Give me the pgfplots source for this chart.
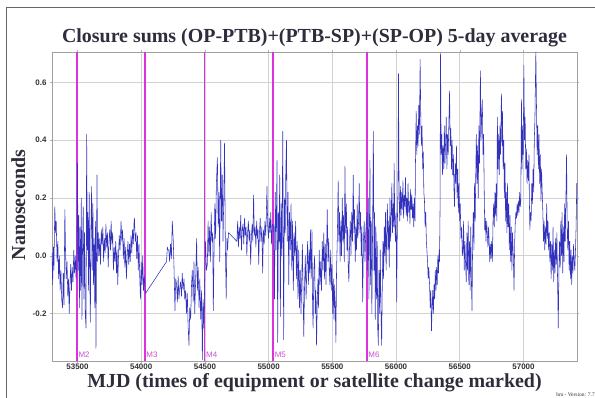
\documentclass[border=0pt]{standalone}
\usepackage{pgfplots}
\pgfplotsset{compat=1.18}
\usepackage{fontspec}
\setmainfont{Liberation Serif}
\newfontfamily\arialf{Liberation Sans}
\definecolor{titlecol}{RGB}{45,45,60}
\definecolor{tickcol}{RGB}{50,50,50}
\definecolor{datacol}{RGB}{50,50,190}
\definecolor{mcol}{RGB}{220,50,220}
\definecolor{mtxt}{RGB}{205,80,205}
\begin{document}
\begin{tikzpicture}
\begin{axis}[
  at={(0,0)}, anchor=south west, scale only axis,
  width=525bp, height=309bp,
  xmin=53300, xmax=57420, ymin=-0.364, ymax=0.705,
  xtick={53500,54000,54500,55000,55500,56000,56500,57000},
  ytick={-0.2,0,0.2,0.4,0.6},
  scaled x ticks=false, scaled y ticks=false,
  grid=major, grid style={draw=gray!35, line width=0.6bp},
  axis line style={draw=gray!75, line width=0.9bp},
  tick align=outside, major tick length=2bp,
  tick style={draw=gray!60, line width=0.5bp},
  /pgf/number format/assume math mode=true,
  x tick label style={font=\arialf\bfseries\fontsize{8}{9}\selectfont, text=tickcol, inner sep=0.5bp, /pgf/number format/.cd, fixed, precision=0, 1000 sep={}},
  y tick label style={font=\arialf\bfseries\fontsize{8}{9}\selectfont, text=tickcol, /pgf/number format/.cd, fixed, fixed zerofill, precision=1},
  title={Closure sums (OP-PTB)+(PTB-SP)+(SP-OP) 5-day average},
  title style={font=\bfseries\fontsize{20}{24}\selectfont, text=titlecol, at={(axis description cs:0.5,1)}, anchor=base, yshift=3.5bp},
  xlabel={MJD (times of equipment or satellite change marked)},
  xlabel style={font=\bfseries\fontsize{20}{24}\selectfont, text=titlecol, inner sep=0pt, at={(axis description cs:0.5,-0.0858)}, anchor=base},
  ylabel={Nanoseconds},
  ylabel style={font=\bfseries\fontsize{20}{24}\selectfont, text=titlecol, at={(axis description cs:-0.0514,0.505)}, anchor=base, rotate=0},
]
\addplot[mcol, line width=1.6bp] coordinates {(53495,-0.5) (53495,0.8)};
\addplot[mcol, line width=1.6bp] coordinates {(54028,-0.5) (54028,0.8)};
\addplot[mcol, line width=1.6bp] coordinates {(54497,-0.5) (54497,0.8)};
\addplot[mcol, line width=1.6bp] coordinates {(55035,-0.5) (55035,0.8)};
\addplot[mcol, line width=1.6bp] coordinates {(55770,-0.5) (55770,0.8)};
\addplot[datacol, line width=0.55bp, line join=round] table {
x y
53300 0.01
53305 -0.10
53310 0.03
53315 -0.05
53322 0.17
53328 0.08
53333 0.12
53340 -0.02
53346 0.05
53352 -0.08
53358 0.00
53364 -0.12
53370 -0.05
53376 -0.15
53383 -0.18
53388 -0.06
53394 -0.17
53401 0.16
53406 0.02
53412 -0.08
53418 -0.02
53424 -0.14
53430 -0.08
53435 -0.20
53441 -0.10
53447 -0.03
53453 -0.12
53459 -0.04
53465 -0.09
53471 0.02
53477 -0.06
53483 0.00
53489 -0.08
53494 -0.04
53500 0.32
53505 -0.05
53510 0.14
53515 -0.18
53520 0.10
53525 -0.12
53530 0.20
53535 -0.22
53540 0.05
53545 0.17
53550 -0.15
53555 0.08
53561 -0.20
53567 -0.25
53572 0.42
53577 0.02
53582 0.15
53587 -0.12
53592 0.22
53597 -0.08
53601 -0.23
53606 0.10
53611 0.24
53616 -0.05
53621 0.18
53626 -0.10
53631 0.06
53636 -0.18
53641 0.12
53645 -0.32
53653 0.28
53658 -0.02
53663 0.08
53669 0.00
53675 0.06
53681 -0.03
53687 0.09
53693 0.04
53699 0.10
53705 -0.02
53711 0.06
53717 0.01
53723 0.11
53729 0.03
53735 0.08
53741 -0.04
53747 0.05
53753 0.09
53759 0.02
53764 0.12
53770 0.04
53776 0.08
53782 -0.05
53788 0.03
53794 -0.02
53800 0.05
53806 -0.06
53811 0.02
53816 -0.10
53822 0.00
53828 0.07
53834 0.02
53842 0.12
53848 0.05
53854 0.09
53860 -0.01
53866 0.06
53872 -0.04
53878 0.03
53884 -0.08
53890 0.00
53896 0.05
53902 -0.03
53908 0.04
53914 -0.02
53920 0.07
53926 0.01
53932 0.09
53938 0.04
53943 0.11
53947 0.13
53953 0.05
53959 0.08
53965 -0.01
53971 0.07
53977 -0.05
53983 0.04
53989 -0.08
53994 -0.15
54000 -0.02
54006 -0.10
54012 0.00
54018 -0.12
54024 -0.07
54034 -0.13
54199 -0.02
54205 0.03
54211 0.02
54217 0.02
54223 -0.02
54230 0.04
54237 -0.01
54244 0.12
54252 0.05
54258 -0.05
54265 -0.19
54271 -0.08
54278 -0.10
54284 -0.16
54290 -0.07
54296 -0.15
54303 -0.11
54309 -0.09
54316 -0.14
54322 -0.06
54329 -0.12
54336 -0.08
54342 -0.15
54349 -0.12
54355 -0.20
54362 -0.13
54368 -0.24
54375 -0.31
54381 -0.18
54388 -0.22
54395 -0.10
54401 -0.05
54408 -0.16
54414 -0.02
54420 -0.20
54427 -0.09
54435 0.06
54441 -0.12
54447 -0.04
54454 -0.18
54460 -0.08
54467 -0.22
54474 -0.12
54480 -0.36
54486 -0.15
54492 -0.25
54498 -0.10
54505 0.05
54512 -0.05
54519 -0.03
54525 0.12
54531 0.00
54537 0.10
54543 -0.02
54549 0.15
54555 0.05
54561 0.08
54566 -0.19
54572 0.03
54578 0.18
54584 0.06
54590 0.25
54598 0.34
54604 0.10
54610 0.22
54616 -0.02
54624 0.40
54630 0.12
54636 0.28
54642 0.05
54648 0.20
54654 0.39
54660 0.05
54667 -0.15
54673 0.06
54678 0.02
54685 0.08
54751 0.05
54757 0.12
54763 0.03
54769 0.10
54775 0.06
54781 0.14
54787 0.02
54793 0.09
54799 0.11
54805 0.04
54811 0.13
54817 0.07
54823 0.10
54829 0.00
54835 0.08
54841 0.12
54847 0.05
54853 0.09
54859 -0.03
54865 0.07
54871 0.11
54876 0.05
54882 0.21
54888 0.07
54894 0.10
54900 0.03
54906 0.12
54912 0.06
54917 0.09
54922 -0.03
54928 0.08
54934 0.13
54940 0.05
54947 0.10
54953 -0.06
54959 0.09
54965 0.04
54971 0.12
54977 0.07
54982 0.14
54987 0.24
54993 0.10
54999 0.06
55005 0.13
55011 0.08
55017 0.15
55023 0.04
55029 0.11
55040 0.10
55046 -0.15
55052 0.22
55058 0.02
55066 0.33
55071 -0.30
55077 0.15
55082 0.05
55087 0.28
55092 -0.21
55098 0.18
55104 0.00
55111 0.43
55118 -0.29
55124 0.20
55130 0.08
55135 0.30
55140 0.40
55146 0.05
55152 0.22
55158 -0.10
55164 0.15
55170 0.02
55176 0.18
55182 -0.05
55188 0.12
55194 -0.12
55200 0.08
55206 0.00
55212 0.12
55218 -0.08
55224 0.05
55230 -0.15
55236 0.02
55242 -0.18
55248 -0.05
55254 -0.20
55260 -0.08
55265 0.04
55270 -0.12
55276 -0.28
55282 -0.10
55288 0.00
55294 -0.15
55300 -0.04
55306 0.05
55312 -0.10
55318 0.02
55323 -0.06
55328 0.09
55334 -0.08
55340 0.09
55345 -0.18
55349 -0.25
55355 -0.05
55361 0.00
55366 -0.20
55371 -0.12
55376 -0.31
55382 -0.15
55387 -0.08
55392 -0.18
55397 0.02
55403 -0.10
55409 -0.02
55415 -0.12
55421 0.05
55427 -0.05
55433 0.08
55439 -0.08
55445 0.04
55450 -0.10
55455 0.02
55460 0.16
55466 -0.02
55471 0.06
55476 -0.05
55481 -0.10
55487 0.02
55492 -0.12
55497 -0.03
55503 -0.20
55508 -0.08
55513 -0.22
55518 -0.10
55523 -0.18
55528 -0.30
55533 -0.05
55539 0.06
55546 0.26
55551 0.05
55556 0.15
55561 -0.02
55567 0.12
55572 0.00
55578 0.20
55583 0.05
55588 0.14
55594 -0.02
55599 0.31
55604 0.08
55610 0.18
55615 0.02
55620 0.10
55625 -0.04
55630 -0.09
55636 0.06
55641 0.12
55646 0.00
55652 0.15
55658 0.05
55664 0.28
55669 0.08
55674 0.16
55680 -0.02
55685 0.10
55690 0.02
55695 0.18
55700 0.06
55706 0.12
55711 0.25
55716 0.08
55721 0.15
55727 0.00
55732 0.10
55738 -0.16
55744 0.05
55750 0.12
55756 -0.02
55762 0.08
55772 0.15
55777 -0.05
55782 0.20
55787 -0.15
55791 0.10
55795 0.33
55800 -0.10
55805 0.12
55810 -0.20
55815 0.05
55822 0.43
55827 -0.05
55832 0.15
55837 -0.22
55842 0.10
55847 -0.15
55852 0.05
55856 -0.25
55861 -0.31
55866 -0.05
55871 -0.20
55876 0.02
55881 -0.18
55887 -0.31
55892 -0.10
55897 0.05
55902 -0.08
55907 0.10
55912 0.00
55917 0.15
55922 -0.05
55927 0.08
55932 0.18
55937 0.02
55942 0.12
55947 -0.04
55952 0.20
55957 0.05
55962 0.14
55967 0.25
55972 0.08
55977 0.18
55982 0.10
55985 0.32
55990 0.12
55995 0.05
56000 0.15
56005 -0.16
56010 0.10
56015 0.25
56019 0.63
56024 0.20
56029 0.12
56034 0.24
56039 0.14
56044 0.22
56049 0.16
56054 0.26
56059 0.13
56064 0.21
56069 0.17
56074 0.27
56079 0.14
56084 0.20
56089 0.12
56094 0.25
56099 0.15
56104 0.19
56109 0.11
56114 0.23
56119 0.16
56124 0.21
56129 0.13
56134 0.18
56139 0.10
56144 0.20
56149 0.12
56152 0.31
56158 0.50
56163 0.35
56168 0.45
56173 0.38
56178 0.52
56183 0.42
56189 0.68
56194 0.48
56199 0.38
56204 0.45
56209 0.30
56214 0.36
56218 0.22
56223 0.19
56228 0.10
56233 0.15
56238 0.05
56242 0.02
56247 -0.02
56252 -0.08
56257 -0.04
56263 -0.10
56268 -0.18
56273 -0.12
56278 -0.26
56283 -0.18
56288 -0.12
56293 -0.20
56298 -0.10
56303 -0.15
56308 -0.05
56313 -0.12
56318 -0.04
56323 -0.10
56328 0.00
56333 -0.06
56338 0.02
56341 -0.02
56345 0.15
56349 0.70
56354 0.35
56359 0.42
56364 0.28
56369 0.38
56374 0.30
56379 0.45
56384 0.32
56389 0.40
56394 0.48
56399 0.30
56404 0.42
56409 0.35
56414 0.45
56420 0.57
56425 0.38
56430 0.44
56435 0.30
56440 0.40
56445 0.28
56450 0.35
56455 0.22
56459 0.17
56464 0.32
56469 0.25
56474 0.38
56479 0.20
56484 0.30
56489 0.15
56494 0.25
56499 0.12
56504 0.18
56509 0.06
56515 0.10
56520 0.00
56525 0.02
56530 0.12
56535 -0.05
56540 0.05
56545 -0.02
56551 -0.09
56556 0.08
56561 -0.05
56566 0.12
56571 -0.10
56576 0.05
56581 -0.12
56586 0.10
56591 -0.08
56596 -0.19
56601 0.05
56606 0.15
56611 0.02
56616 0.25
56621 0.12
56626 0.30
56630 0.42
56635 0.25
56640 0.38
56645 0.20
56650 0.45
56655 0.32
56662 0.64
56667 0.40
56672 0.48
56677 0.54
56682 0.35
56687 0.42
56692 0.22
56696 0.09
56701 0.13
56706 0.05
56711 0.12
56716 0.08
56721 0.03
56726 0.10
56730 0.06
56735 -0.02
56740 0.04
56745 -0.01
56750 0.05
56756 -0.02
56761 0.12
56766 0.18
56771 0.10
56776 0.22
56781 0.14
56786 0.25
56791 0.12
56795 0.48
56800 0.30
56805 0.42
56810 0.28
56815 0.45
56820 0.35
56827 0.56
56832 0.38
56835 0.50
56840 0.30
56845 0.40
56850 0.20
56855 0.32
56860 0.12
56865 0.22
56870 0.08
56874 0.25
56879 0.10
56884 0.18
56889 0.02
56894 0.14
56899 -0.02
56904 0.10
56909 -0.05
56914 0.08
56920 0.00
56926 -0.12
56931 0.05
56936 0.12
56940 0.15
56945 0.13
56950 0.18
56955 0.14
56960 0.19
56965 0.15
56970 0.22
56975 0.17
56979 0.19
56984 0.54
56989 0.30
56994 0.45
56998 0.35
57003 0.66
57008 0.40
57013 0.48
57018 0.30
57023 0.37
57028 0.25
57033 0.33
57038 0.26
57043 0.35
57046 0.20
57050 0.09
57055 0.15
57060 0.12
57065 0.25
57070 0.18
57075 0.30
57080 0.22
57085 0.40
57090 0.48
57097 0.71
57102 0.52
57107 0.35
57112 0.45
57117 0.30
57122 0.42
57127 0.25
57132 0.35
57137 0.19
57142 0.30
57147 0.22
57152 0.15
57157 0.05
57162 0.12
57167 0.02
57172 0.10
57177 0.04
57182 0.18
57187 0.06
57192 0.12
57197 0.02
57202 0.08
57207 -0.02
57212 0.05
57217 -0.08
57222 0.04
57227 -0.05
57232 0.10
57237 -0.09
57242 0.02
57247 -0.06
57252 0.06
57257 -0.03
57262 0.08
57268 -0.10
57273 -0.25
57278 -0.05
57283 0.05
57288 -0.04
57293 0.12
57298 0.00
57303 0.15
57308 -0.06
57313 0.10
57318 -0.02
57323 0.18
57328 0.05
57333 0.20
57338 0.35
57343 0.10
57348 0.02
57353 0.12
57358 -0.05
57363 0.05
57368 -0.08
57373 0.02
57378 -0.10
57383 0.00
57388 -0.06
57393 0.04
57398 -0.02
57403 -0.05
57408 0.02
57413 0.10
57418 0.25
57421 0.18
};
\node[anchor=base west, text=mtxt, font=\arialf\fontsize{8}{9}\selectfont, inner sep=0pt, xshift=1.5bp] at (axis cs:53495,-0.353) {M2};
\node[anchor=base west, text=mtxt, font=\arialf\fontsize{8}{9}\selectfont, inner sep=0pt, xshift=1.5bp] at (axis cs:54028,-0.353) {M3};
\node[anchor=base west, text=mtxt, font=\arialf\fontsize{8}{9}\selectfont, inner sep=0pt, xshift=1.5bp] at (axis cs:54497,-0.353) {M4};
\node[anchor=base west, text=mtxt, font=\arialf\fontsize{8}{9}\selectfont, inner sep=0pt, xshift=1.5bp] at (axis cs:55035,-0.353) {M5};
\node[anchor=base west, text=mtxt, font=\arialf\fontsize{8}{9}\selectfont, inner sep=0pt, xshift=1.5bp] at (axis cs:55770,-0.353) {M6};
\end{axis}
\draw[draw=gray!80!black, line width=1bp] (-45bp,-45bp) -- (-45bp,353bp) -- (560bp,353bp);
\node[anchor=base east, text=tickcol, font=\fontsize{5.5}{6}\selectfont, inner sep=0pt] at (543bp,-35bp) {hm - Version: 7.7};
\pgfresetboundingbox
\path[use as bounding box] (-52bp,-37bp) rectangle (543bp,361bp);
\end{tikzpicture}
\end{document}
